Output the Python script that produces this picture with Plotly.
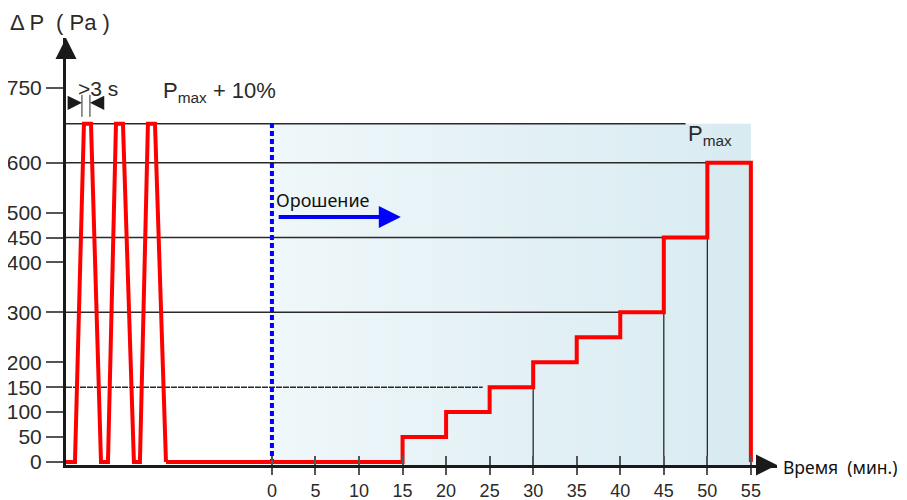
import plotly.graph_objects as go

# ---------------- data ----------------
# pressure test pulses (drawn in the left, un-scaled part of the time axis)
pulse_t = [-23.65, -22.62, -21.59, -20.78, -19.63, -18.83, -17.91, -17.11,
           -15.85, -15.16, -14.24, -13.43, -12.17]
pulse_p = [0, 0, 678, 678, 0, 0, 678, 678, 0, 0, 678, 678, 0]

# stepped pressure rise during irrigation (minutes, Pa)
step_t = [-12.17, 15, 20, 25, 30, 35, 40, 45, 50, 55]
step_p = [0, 50, 100, 150, 200, 250, 300, 450, 600, 0]

# reference levels (Pa) and where their horizontal lines end (min)
ref_levels = [678, 600, 450, 300, 150]
ref_ends = [47.5, 50, 45, 40, 24.2]
# vertical guide lines (min) and their heights (Pa)
vguide_t = [30, 45, 50]
vguide_p = [200, 300, 450]

y_ticks = [0, 50, 100, 150, 200, 300, 400, 450, 500, 600, 750]
x_ticks = [0, 5, 10, 15, 20, 25, 30, 35, 40, 45, 50, 55]

irrigation_start = 0
irrigation_end = 55
p_max_10 = 678

X0, X1 = -23.65, 58.0
Y0, Y1 = -6, 850

# ---------------- layout helpers ----------------
# the page body has an 8px margin, so the figure is placed 8px in from the corner
OFF = 8
W, H = 907 - OFF, 500 - OFF
L, R, T, B = 66 - OFF, 777 - OFF, 38 - OFF, 465 - OFF


def px(x):
    return (x - OFF - L) / (R - L)


def py(y):
    return (B - (y - OFF)) / (B - T)


FONT = "Liberation Sans, Arial, sans-serif"
FONT2 = "Noto Sans, Open Sans, sans-serif"
INK = "#2a2a2a"

fig = go.Figure()

# shaded irrigation area
fig.add_trace(go.Scatter(
    x=[irrigation_start, irrigation_end, irrigation_end, irrigation_start, irrigation_start],
    y=[Y0, Y0, p_max_10, p_max_10, Y0],
    mode="lines", fill="toself", line=dict(width=0),
    fillgradient=dict(type="horizontal",
                      colorscale=[[0, "#eff7fa"], [1, "#d8ebf1"]]),
    hoverinfo="skip", showlegend=False))

# horizontal reference lines
hx, hy = [], []
for lv, end in zip(ref_levels, ref_ends):
    if lv == 150:
        continue
    hx += [X0, end, None]
    hy += [lv, lv, None]
fig.add_trace(go.Scatter(x=hx, y=hy, mode="lines",
                         line=dict(color=INK, width=1.5),
                         hoverinfo="skip", showlegend=False))
# 150 Pa line (dashed-looking)
for lv, end in zip(ref_levels, ref_ends):
    if lv == 150:
        fig.add_trace(go.Scatter(x=[X0, end], y=[lv, lv], mode="lines",
                                 line=dict(color=INK, width=1.5, dash="6px,1px"),
                                 hoverinfo="skip", showlegend=False))

# vertical guide lines
vx, vy = [], []
for t, p in zip(vguide_t, vguide_p):
    vx += [t, t, None]
    vy += [Y0, p, None]
fig.add_trace(go.Scatter(x=vx, y=vy, mode="lines",
                         line=dict(color=INK, width=1.3),
                         hoverinfo="skip", showlegend=False))

# ">3 s" dimension marks
dim_t = [-21.82, -20.90]
dx, dy = [], []
for t in dim_t:
    dx += [t, t, None]
    dy += [692, 736, None]
fig.add_trace(go.Scatter(x=dx, y=dy, mode="lines",
                         line=dict(color=INK, width=1),
                         hoverinfo="skip", showlegend=False))

# blue dotted start of irrigation
fig.add_trace(go.Scatter(x=[irrigation_start, irrigation_start], y=[Y0 + 2, p_max_10],
                         mode="lines", line=dict(color="#0000ff", width=4, dash="5px,3px"),
                         hoverinfo="skip", showlegend=False))

# red pressure curve
fig.add_trace(go.Scatter(x=pulse_t, y=pulse_p, mode="lines",
                         line=dict(color="#ff0000", width=4),
                         hoverinfo="skip", showlegend=False))
fig.add_trace(go.Scatter(x=step_t, y=step_p, mode="lines", line_shape="hv",
                         line=dict(color="#ff0000", width=4),
                         hoverinfo="skip", showlegend=False))

# second x axis for the part of the ticks above the axis line
fig.add_trace(go.Scatter(x=[X0], y=[Y0], xaxis="x2", mode="markers",
                         marker=dict(opacity=0), hoverinfo="skip", showlegend=False))

annotations = [
    # axis arrowheads
    dict(x=0, y=1, xref="paper", yref="paper", ax=0, ay=18, text="",
         showarrow=True, arrowhead=2, arrowsize=1.4, arrowwidth=3, arrowcolor="#1a1a1a"),
    dict(x=1, y=0, xref="paper", yref="paper", ax=-18, ay=0, text="",
         showarrow=True, arrowhead=2, arrowsize=1.4, arrowwidth=3, arrowcolor="#1a1a1a"),
    # >3 s arrows
    dict(x=dim_t[0], y=720, ax=-22.95, ay=720, xref="x", yref="y", axref="x", ayref="y",
         text="", showarrow=True, arrowhead=2, arrowsize=2.2, arrowwidth=1.3, arrowcolor="#1a1a1a"),
    dict(x=dim_t[1], y=720, ax=-19.75, ay=720, xref="x", yref="y", axref="x", ayref="y",
         text="", showarrow=True, arrowhead=2, arrowsize=2.2, arrowwidth=1.3, arrowcolor="#1a1a1a"),
    # irrigation arrow
    dict(x=14.8, y=491, ax=0.6, ay=491, xref="x", yref="y", axref="x", ayref="y",
         text="", showarrow=True, arrowhead=2, arrowsize=1.1, arrowwidth=4, arrowcolor="#0000ff"),
    # texts
    dict(x=px(8), y=py(23), xref="paper", yref="paper", xanchor="left", yanchor="middle",
         text="Δ P  ( Pa )", showarrow=False, font=dict(family=FONT, size=22, color=INK)),
    dict(x=px(76), y=py(88), xref="paper", yref="paper", xanchor="left", yanchor="middle",
         text="&gt;3 s", showarrow=False, font=dict(family=FONT, size=21, color=INK)),
    dict(x=px(161), y=py(92), xref="paper", yref="paper", xanchor="left", yanchor="middle",
         text="P<sub>max</sub> + 10%", showarrow=False, font=dict(family=FONT, size=22, color=INK)),
    dict(x=px(686), y=py(135), xref="paper", yref="paper", xanchor="left", yanchor="middle",
         text="P<sub>max</sub>", showarrow=False, font=dict(family=FONT, size=22, color=INK)),
    dict(x=px(274), y=py(200), xref="paper", yref="paper", xanchor="left", yanchor="middle",
         text="Орошение", showarrow=False, font=dict(family=FONT2, size=18, color="#111")),
    dict(x=px(781), y=py(467), xref="paper", yref="paper", xanchor="left", yanchor="middle",
         text="Время  (мин.)", showarrow=False, font=dict(family=FONT2, size=17.5, color="#111")),
]

fig.update_layout(
    width=W, height=H,
    margin=dict(l=L, r=W - R, t=T, b=H - B, autoexpand=False),
    paper_bgcolor="white", plot_bgcolor="white",
    showlegend=False,
    annotations=annotations,
    xaxis=dict(range=[X0, X1], tickmode="array", tickvals=x_ticks,
               ticktext=[str(v) for v in x_ticks], automargin=False,
               ticks="outside", ticklen=7, tickwidth=1.5, tickcolor="#555",
               showline=True, linewidth=3, linecolor="#1a1a1a",
               showgrid=False, zeroline=False,
               tickfont=dict(family=FONT, size=18, color=INK)),
    xaxis2=dict(range=[X0, X1], overlaying="x", anchor="y", side="bottom",
                tickmode="array", tickvals=x_ticks, showticklabels=False,
                automargin=False,
                ticks="inside", ticklen=9, tickwidth=1.5, tickcolor="#555",
                showgrid=False, zeroline=False, showline=False),
    yaxis=dict(range=[Y0, Y1], tickmode="array", tickvals=y_ticks,
               ticktext=[str(v) for v in y_ticks], automargin=False,
               ticks="outside", ticklen=17, tickwidth=1.5, tickcolor="#555",
               showline=True, linewidth=3, linecolor="#1a1a1a",
               showgrid=False, zeroline=False,
               tickfont=dict(family=FONT, size=21, color=INK)),
)

fig.write_html("out.html")
